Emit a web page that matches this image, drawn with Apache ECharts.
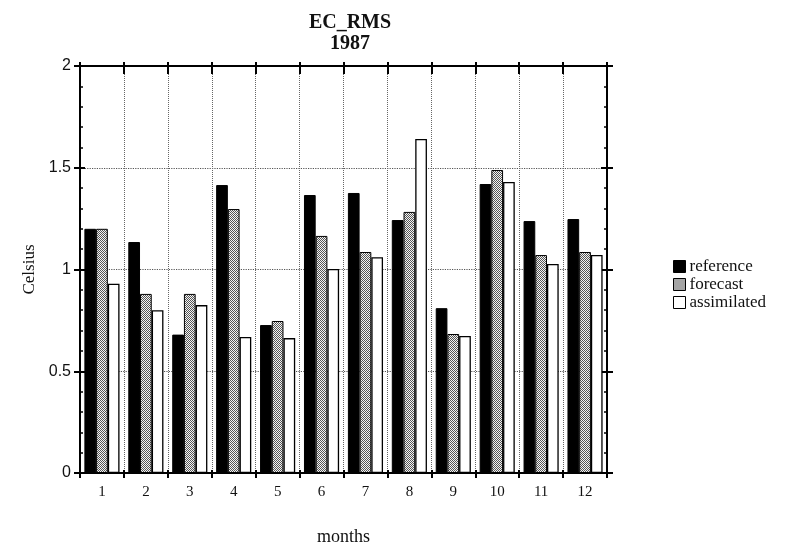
<!DOCTYPE html>
<html>
<head>
<meta charset="utf-8">
<script src="https://cdn.jsdelivr.net/npm/echarts@6/dist/echarts.min.js"></script>
<style>
  html, body { margin: 0; padding: 0; background: #fff; }
  #chart { width: 792px; height: 549px; }
</style>
</head>
<body>
<div id="chart"></div>
<script>
var months = ['1', '2', '3', '4', '5', '6', '7', '8', '9', '10', '11', '12'];
var reference = [1.20, 1.135, 0.68, 1.415, 0.727, 1.366, 1.376, 1.243, 0.81, 1.42, 1.238, 1.248];
var forecast = [1.20, 0.88, 0.88, 1.297, 0.747, 1.165, 1.086, 1.283, 0.683, 1.489, 1.071, 1.086];
var assimilated = [0.93, 0.80, 0.825, 0.668, 0.663, 1.003, 1.06, 1.641, 0.673, 1.43, 1.027, 1.071];
var yTicks = ['0', '0.5', '1', '1.5', '2'];

// dithered grey fill for the forecast bars
var pat = document.createElement('canvas');
pat.width = 4;
pat.height = 4;
var pctx = pat.getContext('2d');
pctx.fillStyle = '#f4f4f4';
pctx.fillRect(0, 0, 4, 4);
pctx.fillStyle = '#555';
for (var i = 0; i < 4; i++) {
  for (var j = 0; j < 4; j++) {
    if ((i + j) % 2 === 0) pctx.fillRect(i, j, 1, 1);
  }
}

var chartDom = document.getElementById('chart');
var myChart = echarts.init(chartDom);

var serif = 'Liberation Serif';
var box = { left: 80, right: 185, top: 66, bottom: 76, outerBoundsMode: 'none' };

// four identical grids, so ticks can cross the frame on every side
function xAx(g, pos, inside, len, extra) {
  var ax = {
    type: 'category',
    gridIndex: g,
    data: months,
    position: pos,
    boundaryGap: true,
    axisLine: { show: true, onZero: false, lineStyle: { color: '#000', width: 2 } },
    axisTick: { show: true, interval: 0, inside: inside, length: len, lineStyle: { color: '#000', width: 2 } },
    axisLabel: { show: false },
    splitLine: { show: false }
  };
  return Object.assign(ax, extra || {});
}

function yAx(g, pos, inside, len, minor, extra) {
  var ax = {
    type: 'value',
    gridIndex: g,
    min: 0,
    max: 2,
    interval: 0.5,
    position: pos,
    axisLine: { show: true, onZero: false, lineStyle: { color: '#000', width: 2 } },
    axisTick: { show: true, inside: inside, length: len, lineStyle: { color: '#000', width: 2 } },
    minorTick: { show: minor, splitNumber: 5, length: 3, lineStyle: { color: '#000', width: 1.5 } },
    axisLabel: { show: false },
    splitLine: { show: false }
  };
  return Object.assign(ax, extra || {});
}

var option = {
  animation: false,
  backgroundColor: '#fff',
  title: {
    text: 'EC_RMS\n1987',
    left: 345,
    top: 7,
    textAlign: 'center',
    textStyle: { fontFamily: serif, fontSize: 20, fontWeight: 'bold', color: '#111', lineHeight: 21 }
  },
  legend: {
    orient: 'vertical',
    left: 668,
    top: 253,
    itemWidth: 12,
    itemHeight: 12,
    itemGap: 1,
    icon: 'rect',
    itemStyle: { borderColor: '#000', borderWidth: 1 },
    textStyle: { fontFamily: serif, fontSize: 17, lineHeight: 16, color: '#111', padding: [0, 0, 0, -1] },
    data: ['reference', 'forecast', 'assimilated']
  },
  grid: [box, box, box, box],
  xAxis: [
    xAx(0, 'bottom', false, 5, {
      name: 'months',
      nameLocation: 'middle',
      nameGap: 55,
      nameTextStyle: { fontFamily: serif, fontSize: 18, color: '#111' },
      axisLabel: { show: true, fontFamily: serif, fontSize: 15, color: '#111', margin: 12 },
      splitLine: { show: true, lineStyle: { color: '#666', type: 'dotted', width: 1 } }
    }),
    xAx(1, 'bottom', true, 3),
    xAx(2, 'top', false, 4),
    xAx(3, 'top', true, 8)
  ],
  yAxis: [
    yAx(0, 'left', false, 6, false, {
      name: 'Celsius',
      nameLocation: 'middle',
      nameGap: 40,
      nameRotate: 90,
      nameTextStyle: { fontFamily: serif, fontSize: 17, color: '#111' },
      axisLabel: {
        show: true, fontFamily: 'Liberation Sans', fontSize: 16, color: '#111', margin: 9,
        formatter: function (v) { return yTicks[Math.round(v / 0.5)]; }
      },
      splitLine: { show: true, lineStyle: { color: '#555', type: 'dotted', width: 1.2 } }
    }),
    yAx(1, 'left', true, 5, true),
    yAx(2, 'right', false, 6, false),
    yAx(3, 'right', true, 6, true)
  ],
  series: [
    {
      name: 'reference',
      type: 'bar',
      barGap: '0%',
      barCategoryGap: '20%',
      itemStyle: { color: '#000', borderColor: '#000', borderWidth: 1 },
      data: reference
    },
    {
      name: 'forecast',
      type: 'bar',
      barGap: '0%',
      barCategoryGap: '20%',
      itemStyle: { color: { image: pat, repeat: 'repeat' }, borderColor: '#000', borderWidth: 1 },
      data: forecast
    },
    {
      name: 'assimilated',
      type: 'bar',
      barGap: '0%',
      barCategoryGap: '20%',
      itemStyle: { color: '#fff', borderColor: '#000', borderWidth: 1.3 },
      data: assimilated
    }
  ]
};

myChart.setOption(option);
window.addEventListener('resize', myChart.resize);
</script>
</body>
</html>
